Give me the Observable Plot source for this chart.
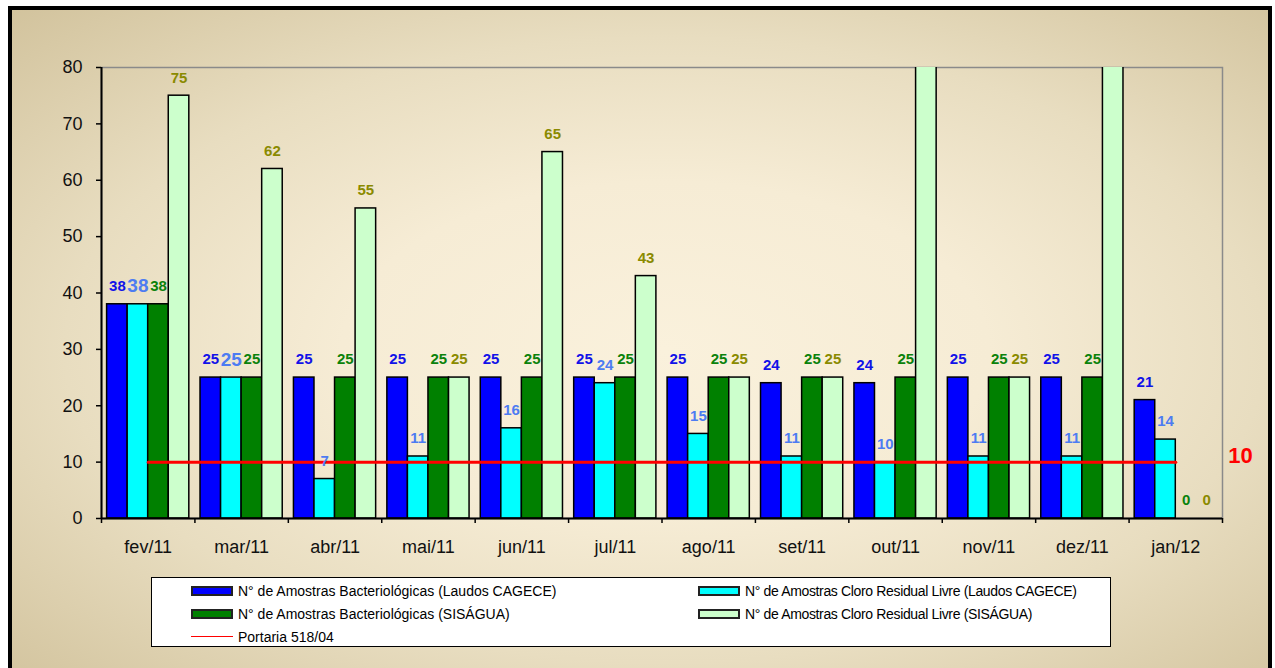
<!DOCTYPE html>
<html><head><meta charset="utf-8">
<script src="https://cdn.jsdelivr.net/npm/d3@7"></script>
<script src="https://cdn.jsdelivr.net/npm/@observablehq/plot@0.6"></script>
<style>
body{margin:0;width:1275px;height:668px;overflow:hidden;background:#fff;font-family:"Liberation Sans",Arial,sans-serif;position:relative;}
#frame{position:absolute;left:8px;top:6px;width:1256px;height:680px;border:4px solid #000;
  background:radial-gradient(ellipse farthest-corner at 52% 50%, #faf1dc 0%, #f6ecd5 35%, #e8ddc0 65%, #d2c39d 100%);}
#chart{position:absolute;left:0;top:0;}
#legend{position:absolute;left:151px;top:577px;width:958px;height:68px;background:#fff;border:1px solid #000;font-size:14px;color:#000;}
.item{position:absolute;height:20px;line-height:20px;white-space:nowrap;}
.item.c2{letter-spacing:-0.35px;}
.sw{position:absolute;left:0;top:5px;width:38px;height:6px;border:2px solid #222;}
.ln{position:absolute;left:0;top:9px;width:42px;height:0;border-top:1.5px solid #f00;}
.item span{position:absolute;left:47px;top:0;}
</style></head><body>
<div id="frame"></div>
<div id="chart"></div>
<div id="legend"></div>
<script>
// ---- data ----
const months = ["fev/11","mar/11","abr/11","mai/11","jun/11","jul/11","ago/11","set/11","out/11","nov/11","dez/11","jan/12"];
const bactCagece  = [38,25,25,25,25,25,25,24,24,25,25,21];
const cloroCagece = [38,25,7,11,16,24,15,11,10,11,11,14];
const bactSisagua = [38,25,25,25,25,25,25,25,25,25,25,0];
// out/11 and dez/11 run off the top of the 0–80 axis (value not visible)
const cloroSisagua = [75,62,55,25,65,43,25,25,100,25,100,0];
const portaria = [10,10,10,10,10,10,10,10,10,10,10,10];
const seriesNames = [
  "N° de Amostras Bacteriológicas (Laudos CAGECE)",
  "N° de Amostras Cloro Residual Livre (Laudos CAGECE)",
  "N° de Amostras Bacteriológicas (SISÁGUA)",
  "N° de Amostras Cloro Residual Livre (SISÁGUA)"
];
const lineName = "Portaria 518/04";
const yTicks = [0,10,20,30,40,50,60,70,80];

// ---- styles ----
const fills = ["#0000ff","#00ffff","#008000","#ccffcc"];
const labelColors = ["#1212e8","#4d7cf2","#0b820b","#8a8a00"];

const allSeries = [bactCagece, cloroCagece, bactSisagua, cloroSisagua];
const rows = [];
allSeries.forEach((vals, k) => vals.forEach((v, i) => rows.push({month: months[i], i, k, value: v})));
const lineRows = portaria.map((v, i) => ({i, v}));
const yMax = 80;

const pad = 0.06, bw = 0.22;
const x1 = d => d.i + pad + d.k * bw;
const x2 = d => d.i + pad + (d.k + 1) * bw;
const xc = d => d.i + pad + (d.k + 0.5) * bw;

const H = 566;
const plot = Plot.plot({
  width: 1275, height: H,
  marginLeft: 101, marginRight: 53, marginTop: 67, marginBottom: H - 518,
  x: {type: "linear", domain: [0, months.length], axis: null},
  y: {domain: [0, yMax], axis: null},
  color: {type: "identity"},
  style: {background: "transparent", fontFamily: "Liberation Sans, Arial, sans-serif", color: "#000", overflow: "visible"},
  marks: [
    Plot.frame({stroke: "#8a8a8a", strokeWidth: 1.5}),
    Plot.rect(rows, {x1, x2, y1: () => 0, y2: "value", fill: d => fills[d.k], stroke: "#000", strokeWidth: 1.5, clip: true}),
    Plot.lineY(lineRows, {x: d => d.i + 0.5, y: "v", stroke: "#ff0000", strokeWidth: 3}),
    Plot.ruleX([0], {stroke: "#000", strokeWidth: 2}),
    Plot.ruleY([0], {stroke: "#000", strokeWidth: 2}),
    Plot.axisY({ticks: yTicks, tickSize: 5, tickPadding: 14, fontSize: 18, stroke: "#000", strokeWidth: 1.5, fill: "#111"}),
    Plot.axisX({ticks: d3.range(0, months.length + 1), tickSize: 5, tickFormat: () => "", stroke: "#000", strokeWidth: 1.5}),
    Plot.axisX({ticks: months.map((m, i) => i + 0.5), tickSize: 0, tickPadding: 22, fontSize: 18, fill: "#111", tickFormat: d => months[Math.floor(d)]}),
    Plot.text(rows.filter(d => d.value <= yMax), {x: xc, y: "value", text: d => String(d.value), dy: -18, lineAnchor: "middle",
      fill: d => labelColors[d.k], fontWeight: "bold",
      fontSize: d => (d.k === 1 && d.value >= 25 && d.i < 2) ? 19 : 15}),
    Plot.text([portaria[portaria.length - 1]], {x: () => months.length, y: d => d, text: d => String(d),
      dx: 18, dy: -6, fill: "#ff0000", fontSize: 22, fontWeight: "bold"})
  ]
});
document.getElementById("chart").appendChild(plot);

// ---- legend ----
const legend = document.getElementById("legend");
const items = [
  {name: seriesNames[0], k: 0, col: 0, row: 0},
  {name: seriesNames[1], k: 1, col: 1, row: 0},
  {name: seriesNames[2], k: 2, col: 0, row: 1},
  {name: seriesNames[3], k: 3, col: 1, row: 1},
  {name: lineName, k: -1, col: 0, row: 2}
];
items.forEach(it => {
  const d = document.createElement("div");
  d.className = "item" + (it.col === 1 ? " c2" : "");
  d.style.left = (it.col === 0 ? 39 : 546) + "px";
  d.style.top = (3 + it.row * 23) + "px";
  const s = document.createElement("div");
  if (it.k >= 0) { s.className = "sw"; s.style.background = fills[it.k]; }
  else s.className = "ln";
  d.appendChild(s);
  const t = document.createElement("span");
  t.textContent = it.name;
  d.appendChild(t);
  legend.appendChild(d);
});
</script>
</body></html>
